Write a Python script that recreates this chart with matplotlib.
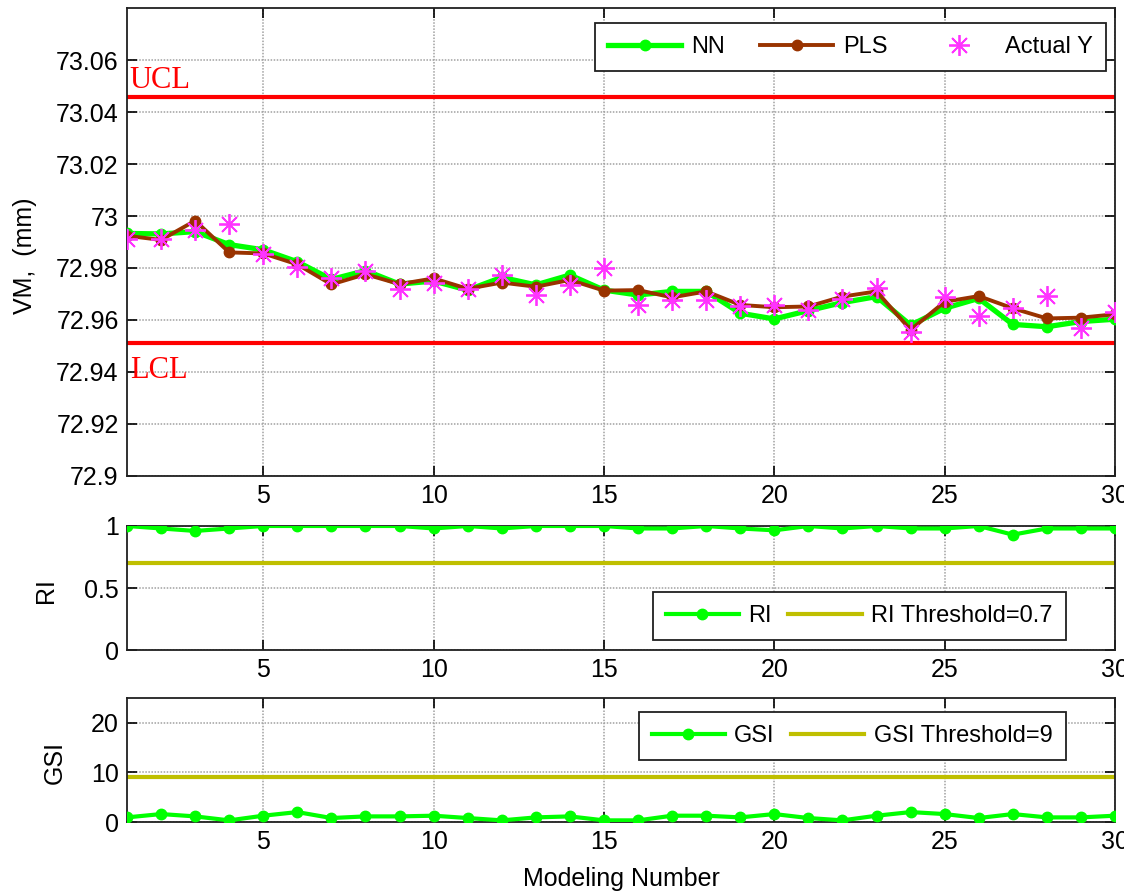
import matplotlib
matplotlib.use('Agg')
import matplotlib.pyplot as plt
from matplotlib.ticker import FuncFormatter

plt.rcParams['font.family'] = ['Liberation Sans', 'DejaVu Sans']

# modeling run index
runs = list(range(1, 31))

# virtual metrology predictions and actual measurement (mm)
nn_vm = [72.9933, 72.9931, 72.9940, 72.9890, 72.9870, 72.9824, 72.9756, 72.9790, 72.9738, 72.9750,
         72.9715, 72.9764, 72.9735, 72.9773, 72.9715, 72.9696, 72.9710, 72.9710, 72.9626, 72.9604,
         72.9636, 72.9667, 72.9690, 72.9580, 72.9645, 72.9683, 72.9583, 72.9574, 72.9594, 72.9603]
pls_vm = [72.9924, 72.9908, 72.9982, 72.9860, 72.9856, 72.9814, 72.9737, 72.9776, 72.9738, 72.9760,
          72.9720, 72.9744, 72.9728, 72.9754, 72.9713, 72.9715, 72.9687, 72.9710, 72.9658, 72.9649,
          72.9652, 72.9690, 72.9710, 72.9562, 72.9670, 72.9692, 72.9645, 72.9606, 72.9609, 72.9622]
actual_y = [72.9912, 72.9912, 72.9946, 72.9968, 72.9854, 72.9805, 72.9760, 72.9790, 72.9720, 72.9744,
            72.9720, 72.9773, 72.9696, 72.9735, 72.9800, 72.9658, 72.9677, 72.9677, 72.9654, 72.9658,
            72.9638, 72.9680, 72.9722, 72.9555, 72.9690, 72.9615, 72.9645, 72.9692, 72.9568, 72.9632]
ucl = 73.0458
lcl = 72.9513

# reliance index
ri = [1.0, 0.98, 0.96, 0.98, 1.0, 1.0, 1.0, 1.0, 1.0, 0.98,
      1.0, 0.98, 1.0, 1.0, 1.0, 0.98, 0.98, 1.0, 0.98, 0.965,
      1.0, 0.98, 1.0, 0.98, 0.98, 1.0, 0.93, 0.98, 0.98, 0.98]
ri_threshold = 0.7

# global similarity index
gsi = [0.93, 1.6, 1.13, 0.33, 1.27, 2.0, 0.8, 1.13, 1.13, 1.27,
       0.8, 0.33, 0.93, 1.13, 0.33, 0.33, 1.27, 1.27, 0.93, 1.6,
       0.8, 0.33, 1.27, 2.0, 1.6, 0.8, 1.6, 0.93, 0.93, 1.27]
gsi_threshold = 9

vm_ticks = [72.9, 72.92, 72.94, 72.96, 72.98, 73.0, 73.02, 73.04, 73.06]
x_ticks = [5, 10, 15, 20, 25, 30]

green = '#00ff00'
brown = '#993300'
magenta = '#ff33ff'
olive = '#bfbf00'
fs = 18
leg_fs = 17

fig = plt.figure(figsize=(11.24, 8.93), dpi=100)
ax1 = fig.add_axes([0.113, 0.467, 0.879, 0.524])
ax2 = fig.add_axes([0.113, 0.272, 0.879, 0.139])
ax3 = fig.add_axes([0.113, 0.0795, 0.879, 0.139])


def matlab_style(ax):
    ax.set_xlim(1, 30)
    ax.set_xticks(x_ticks)
    ax.grid(True, color='#a0a0a0', linestyle=(0, (1, 1)), linewidth=1.1)
    ax.tick_params(direction='in', top=True, right=True, length=7, width=1.2,
                   labelsize=fs, pad=6)
    ax.yaxis.set_major_formatter(FuncFormatter(lambda v, p: '{:g}'.format(round(v, 4))))
    for s in ax.spines.values():
        s.set_linewidth(1.3)
        s.set_color('#202020')


def add_legend(ax, colsp=0.7, **kw):
    leg = ax.legend(fontsize=leg_fs, handlelength=3.1, columnspacing=colsp, handletextpad=0.4,
                    borderpad=0.55, fancybox=False, edgecolor='#202020', framealpha=1,
                    borderaxespad=0, **kw)
    leg.get_frame().set_linewidth(1.3)
    return leg


# top panel: VM
ax1.plot(runs, nn_vm, '-o', color=green, lw=3.8, ms=7.5, label='NN', zorder=3)
ax1.plot(runs, pls_vm, '-o', color=brown, lw=2.8, ms=7.5, label='PLS', zorder=4)
ax1.plot(runs, actual_y, linestyle='none', marker=(8, 2, 0), ms=15, mew=1.3,
         color=magenta, label='Actual Y', zorder=5)
ax1.axhline(ucl, color='#ff0000', lw=3, zorder=2)
ax1.axhline(lcl, color='#ff0000', lw=3, zorder=2)
ax1.text(1.08, ucl + 0.0007, 'UCL', color='#ff0000', fontsize=22,
         family='Liberation Serif', va='bottom', ha='left')
ax1.text(1.08, lcl - 0.0052, 'LCL', color='#ff0000', fontsize=22,
         family='Liberation Serif', va='top', ha='left')
matlab_style(ax1)
ax1.set_ylim(72.9, 73.08)
ax1.set_yticks(vm_ticks)
ax1.set_ylabel('VM,  (mm)', fontsize=fs)
ax1.yaxis.set_label_coords(-0.091, 0.47)
add_legend(ax1, colsp=1.5, ncol=3, loc='upper right', bbox_to_anchor=(0.991, 0.968))

# middle panel: RI
ax2.plot(runs, ri, '-o', color=green, lw=3, ms=7.5, label='RI', zorder=3)
ax2.axhline(ri_threshold, color=olive, lw=3, label='RI Threshold=0.7', zorder=2)
matlab_style(ax2)
ax2.set_ylim(0, 1)
ax2.set_yticks([0, 0.5, 1])
ax2.set_ylabel('RI', fontsize=fs)
ax2.yaxis.set_label_coords(-0.07, 0.48)
add_legend(ax2, ncol=2, loc='lower right', bbox_to_anchor=(0.95, 0.08))

# bottom panel: GSI
ax3.plot(runs, gsi, '-o', color=green, lw=3, ms=7.5, label='GSI', zorder=3)
ax3.axhline(gsi_threshold, color=olive, lw=3, label='GSI Threshold=9', zorder=2)
matlab_style(ax3)
ax3.set_ylim(0, 25)
ax3.set_yticks([0, 10, 20])
ax3.set_ylabel('GSI', fontsize=fs)
ax3.yaxis.set_label_coords(-0.061, 0.48)
ax3.set_xlabel('Modeling Number', fontsize=fs)
ax3.xaxis.set_label_coords(0.5, -0.36)
add_legend(ax3, ncol=2, loc='upper right', bbox_to_anchor=(0.95, 0.887))

plt.savefig('out.png', dpi=100)
